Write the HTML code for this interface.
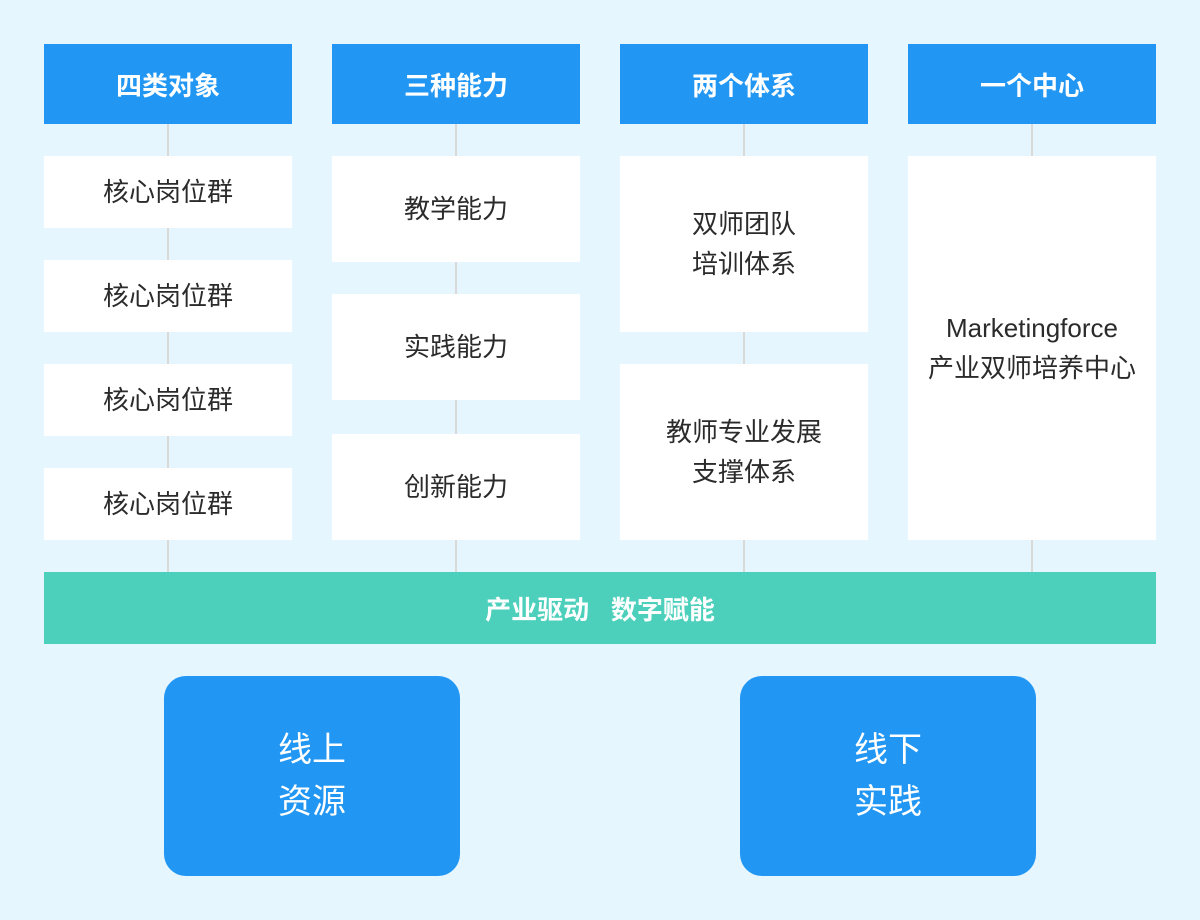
<!DOCTYPE html>
<html><head><meta charset="utf-8"><style>
body{margin:0;width:1200px;height:920px;background:#e6f6fe;position:relative;overflow:hidden;font-family:"Liberation Sans","Noto Sans CJK SC",sans-serif}
.a{position:absolute;display:flex;align-items:center;justify-content:center;text-align:center}
.h{background:#2196f3;color:#fff;font-weight:bold;font-size:26px;height:80px;top:44px;width:248px}
.b{background:#fff;color:#2b2b2b;font-size:26px;width:248px;line-height:40px}
.l{position:absolute;width:2px;background:#d9d9d9;top:124px;height:448px}
.g{background:#4dd0bb;color:#fff;font-weight:bold;font-size:26px;left:44px;width:1112px;top:572px;height:72px}
.c{background:#2196f3;color:#fff;font-size:34px;line-height:52px;border-radius:22px;top:676px;height:200px;width:296px}
</style></head><body>
<div class="l" style="left:167px"></div><div class="l" style="left:455px"></div><div class="l" style="left:743px"></div><div class="l" style="left:1031px"></div>
<div class="a h" style="left:44px">四类对象</div>
<div class="a h" style="left:332px">三种能力</div>
<div class="a h" style="left:620px">两个体系</div>
<div class="a h" style="left:908px">一个中心</div>
<div class="a b" style="left:44px;top:156px;height:72px">核心岗位群</div>
<div class="a b" style="left:44px;top:260px;height:72px">核心岗位群</div>
<div class="a b" style="left:44px;top:364px;height:72px">核心岗位群</div>
<div class="a b" style="left:44px;top:468px;height:72px">核心岗位群</div>
<div class="a b" style="left:332px;top:156px;height:106px">教学能力</div>
<div class="a b" style="left:332px;top:294px;height:106px">实践能力</div>
<div class="a b" style="left:332px;top:434px;height:106px">创新能力</div>
<div class="a b" style="left:620px;top:156px;height:176px">双师团队<br>培训体系</div>
<div class="a b" style="left:620px;top:364px;height:176px">教师专业发展<br>支撑体系</div>
<div class="a b" style="left:908px;top:156px;height:384px">Marketingforce<br>产业双师培养中心</div>
<div class="a g">产业驱动&nbsp;&nbsp;&nbsp;数字赋能</div>
<div class="a c" style="left:164px">线上<br>资源</div>
<div class="a c" style="left:740px">线下<br>实践</div>
</body></html>
